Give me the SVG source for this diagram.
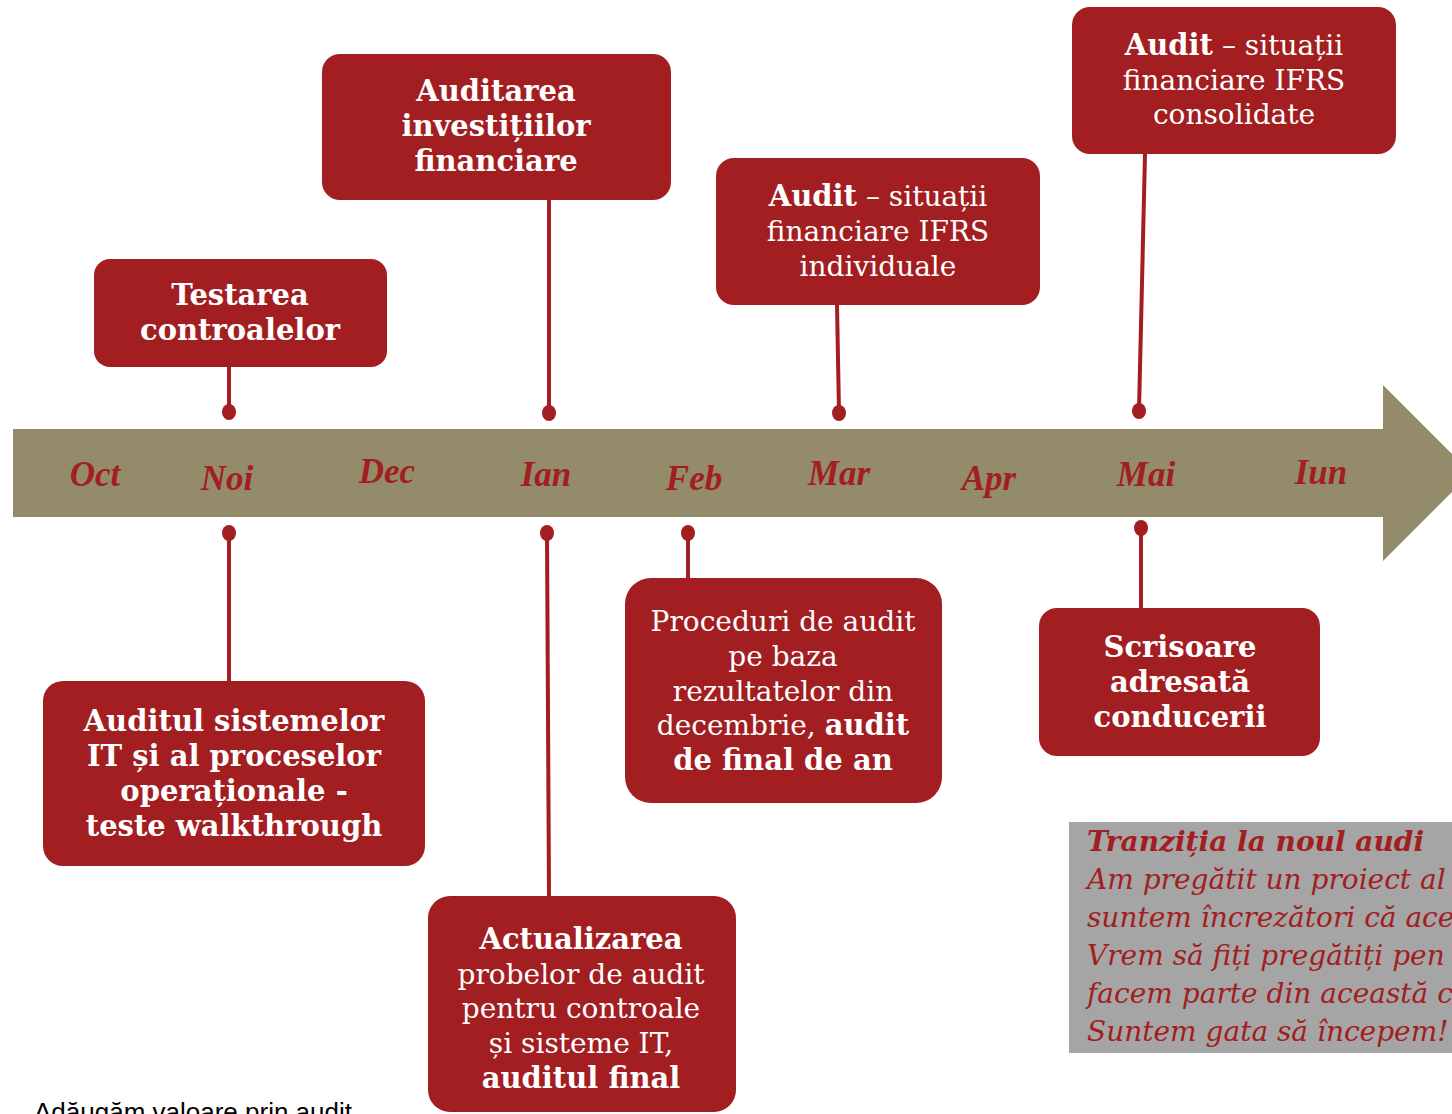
<svg xmlns="http://www.w3.org/2000/svg" width="1452" height="1114" viewBox="0 0 1452 1114">
<style>
.box{fill:#A21E21}
.t{font-family:"DejaVu Serif","Liberation Serif",serif;fill:#ffffff;text-anchor:middle}
.b{font-weight:bold;font-size:29px}
.r{font-weight:normal;font-size:28px}
.m{font-family:"Liberation Serif",serif;font-weight:bold;font-style:italic;font-size:35px;fill:#A21E21;text-anchor:middle}
.con{stroke:#A21E21;stroke-width:4;fill:none}
.dot{fill:#A21E21}
.g{font-family:"DejaVu Serif","Liberation Serif",serif;font-style:italic;font-size:28px;fill:#A21E21}
</style>
<rect width="1452" height="1114" fill="#ffffff"/>
<g id="timeline">
<polygon points="13,429 1383,429 1383,385 1471,473 1383,561 1383,517 13,517" fill="#948B6A"/>
<text class="m" x="95" y="486">Oct</text>
<text class="m" x="227" y="490">Noi</text>
<text class="m" x="387" y="483">Dec</text>
<text class="m" x="546" y="486">Ian</text>
<text class="m" x="694" y="490">Feb</text>
<text class="m" x="839" y="485">Mar</text>
<text class="m" x="989" y="490">Apr</text>
<text class="m" x="1146" y="486">Mai</text>
<text class="m" x="1321" y="484">Iun</text>
</g>
<g id="connectors">
<line class="con" x1="229" y1="367" x2="229" y2="412"/>
<line class="con" x1="549" y1="200" x2="549" y2="413"/>
<line class="con" x1="837" y1="305" x2="839" y2="413"/>
<line class="con" x1="1145" y1="154" x2="1139" y2="411"/>
<line class="con" x1="229" y1="533" x2="229" y2="681"/>
<line class="con" x1="547" y1="533" x2="549" y2="896"/>
<line class="con" x1="688" y1="533" x2="688" y2="578"/>
<line class="con" x1="1141" y1="528" x2="1141" y2="608"/>
<ellipse class="dot" cx="229" cy="412" rx="7" ry="8"/>
<ellipse class="dot" cx="549" cy="413" rx="7" ry="8"/>
<ellipse class="dot" cx="839" cy="413" rx="7" ry="8"/>
<ellipse class="dot" cx="1139" cy="411" rx="7" ry="8"/>
<ellipse class="dot" cx="229" cy="533" rx="7" ry="8"/>
<ellipse class="dot" cx="547" cy="533" rx="7" ry="8"/>
<ellipse class="dot" cx="688" cy="533" rx="7" ry="8"/>
<ellipse class="dot" cx="1141" cy="528" rx="7" ry="8"/>
</g>
<g id="n1">
<rect class="box" x="94" y="259" width="293" height="108" rx="16"/>
<text class="t b" x="240" y="305">Testarea</text>
<text class="t b" x="240" y="340">controalelor</text>
</g>
<g id="n2">
<rect class="box" x="322" y="54" width="349" height="146" rx="18"/>
<text class="t b" x="496" y="101">Auditarea</text>
<text class="t b" x="496" y="136">investițiilor</text>
<text class="t b" x="496" y="171">financiare</text>
</g>
<g id="n3">
<rect class="box" x="716" y="158" width="324" height="147" rx="18"/>
<text class="t r" x="878" y="206"><tspan class="b">Audit</tspan> – situații</text>
<text class="t r" x="878" y="241">financiare IFRS</text>
<text class="t r" x="878" y="276">individuale</text>
</g>
<g id="n4">
<rect class="box" x="1072" y="7" width="324" height="147" rx="18"/>
<text class="t r" x="1234" y="55"><tspan class="b">Audit</tspan> – situații</text>
<text class="t r" x="1234" y="90">financiare IFRS</text>
<text class="t r" x="1234" y="124">consolidate</text>
</g>
<g id="n5">
<rect class="box" x="43" y="681" width="382" height="185" rx="20"/>
<text class="t b" x="234" y="731">Auditul sistemelor</text>
<text class="t b" x="234" y="766">IT și al proceselor</text>
<text class="t b" x="234" y="801">operaționale -</text>
<text class="t b" x="234" y="836">teste walkthrough</text>
</g>
<g id="n6">
<rect class="box" x="428" y="896" width="308" height="216" rx="22"/>
<text class="t b" x="581" y="949">Actualizarea</text>
<text class="t r" x="581" y="984">probelor de audit</text>
<text class="t r" x="581" y="1018">pentru controale</text>
<text class="t r" x="581" y="1053">și sisteme IT,</text>
<text class="t b" x="581" y="1088">auditul final</text>
</g>
<g id="n7">
<rect class="box" x="625" y="578" width="317" height="225" rx="26"/>
<text class="t r" x="783" y="631">Proceduri de audit</text>
<text class="t r" x="783" y="666">pe baza</text>
<text class="t r" x="783" y="701">rezultatelor din</text>
<text class="t r" x="783" y="735">decembrie, <tspan class="b">audit</tspan></text>
<text class="t b" x="783" y="770">de final de an</text>
</g>
<g id="n8">
<rect class="box" x="1039" y="608" width="281" height="148" rx="18"/>
<text class="t b" x="1180" y="657">Scrisoare</text>
<text class="t b" x="1180" y="692">adresată</text>
<text class="t b" x="1180" y="727">conducerii</text>
</g>
<g id="note">
<rect x="1069" y="822" width="400" height="231" fill="#A5A5A5"/>
<text class="g" x="1087" y="851" font-weight="bold">Tranziția la noul audi</text>
<text class="g" x="1087" y="889">Am pregătit un proiect al</text>
<text class="g" x="1087" y="927">suntem încrezători că ace</text>
<text class="g" x="1087" y="965">Vrem să fiți pregătiți pen</text>
<text class="g" x="1087" y="1003">facem parte din această c</text>
<text class="g" x="1087" y="1041">Suntem gata să începem!</text>
</g>
<text x="34" y="1121" font-family="Liberation Sans, Arial, sans-serif" font-size="26" fill="#000000">Adăugăm valoare prin audit</text>
</svg>
